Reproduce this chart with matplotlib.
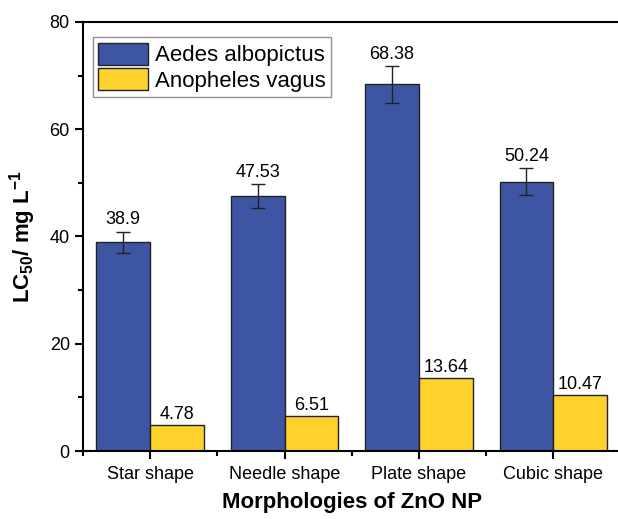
import matplotlib
matplotlib.use("Agg")
import matplotlib.pyplot as plt
import numpy as np

categories = ["Star shape", "Needle shape", "Plate shape", "Cubic shape"]
aedes = [38.9, 47.53, 68.38, 50.24]
aedes_err = [2.0, 2.3, 3.4, 2.5]
anopheles = [4.78, 6.51, 13.64, 10.47]
aedes_labels = ["38.9", "47.53", "68.38", "50.24"]
anopheles_labels = ["4.78", "6.51", "13.64", "10.47"]

plt.rcParams['font.family'] = ['Liberation Sans', 'DejaVu Sans']
plt.rcParams['mathtext.fontset'] = 'custom'
plt.rcParams['mathtext.rm'] = 'Liberation Sans'
plt.rcParams['mathtext.bf'] = 'Liberation Sans:bold'

fig = plt.figure(figsize=(6.18, 5.19), dpi=100)
ax = fig.add_axes([83/618, 1-451/519, 1-83/618+0.004, (451-22)/519])

x = np.arange(len(categories))
w = 0.4
blue = '#3E55A4'
yellow = '#FED22C'
ax.bar(x - w/2, aedes, w, color=blue, edgecolor='#222222', linewidth=1.0,
       label='Aedes albopictus', zorder=2)
ax.bar(x + w/2, anopheles, w, color=yellow, edgecolor='#222222', linewidth=1.0,
       label='Anopheles vagus', zorder=2)
ax.errorbar(x - w/2, aedes, yerr=aedes_err, fmt='none', ecolor='#222222',
            elinewidth=1.0, capsize=5, capthick=1.0, zorder=3)

for xi, v, e, t in zip(x - w/2, aedes, aedes_err, aedes_labels):
    ax.text(xi, v + e + 0.6, t, ha='center', va='bottom', fontsize=13)
for xi, v, t in zip(x + w/2, anopheles, anopheles_labels):
    ax.text(xi, v + 0.4, t, ha='center', va='bottom', fontsize=13)

ax.set_xlim(-0.5, 3.5)
ax.set_ylim(0, 80)
ax.set_xticks(x)
ax.set_xticklabels(categories, fontsize=13)
ax.set_xticks(np.arange(-0.5, 4.0, 1.0), minor=True)
ax.set_yticks([0, 20, 40, 60, 80])
ax.set_yticks(np.arange(10, 80, 20), minor=True)
ax.tick_params(axis='both', which='major', direction='out', length=6, width=1.5, labelsize=13)
ax.tick_params(axis='both', which='minor', direction='out', length=3.5, width=1.5)
ax.tick_params(axis='x', which='major', pad=5)

for s in ax.spines.values():
    s.set_linewidth(1.5)
ax.spines['right'].set_visible(False)

ax.set_xlabel('Morphologies of ZnO NP', fontsize=16, fontweight='bold', labelpad=6)
ax.set_ylabel(r'$\mathbf{LC_{50}}$/ mg L$^{\mathbf{-1}}$', fontsize=16, fontweight='bold', labelpad=8)

leg = ax.legend(loc='upper left', bbox_to_anchor=(0.018, 0.965), fontsize=16,
                frameon=True, fancybox=False, edgecolor='#777777',
                handlelength=2.25, handleheight=1.15, handletextpad=0.3,
                labelspacing=0.1, borderpad=0.25, borderaxespad=0.0)
leg.get_frame().set_linewidth(1.0)

fig.savefig('out.png', dpi=100)
